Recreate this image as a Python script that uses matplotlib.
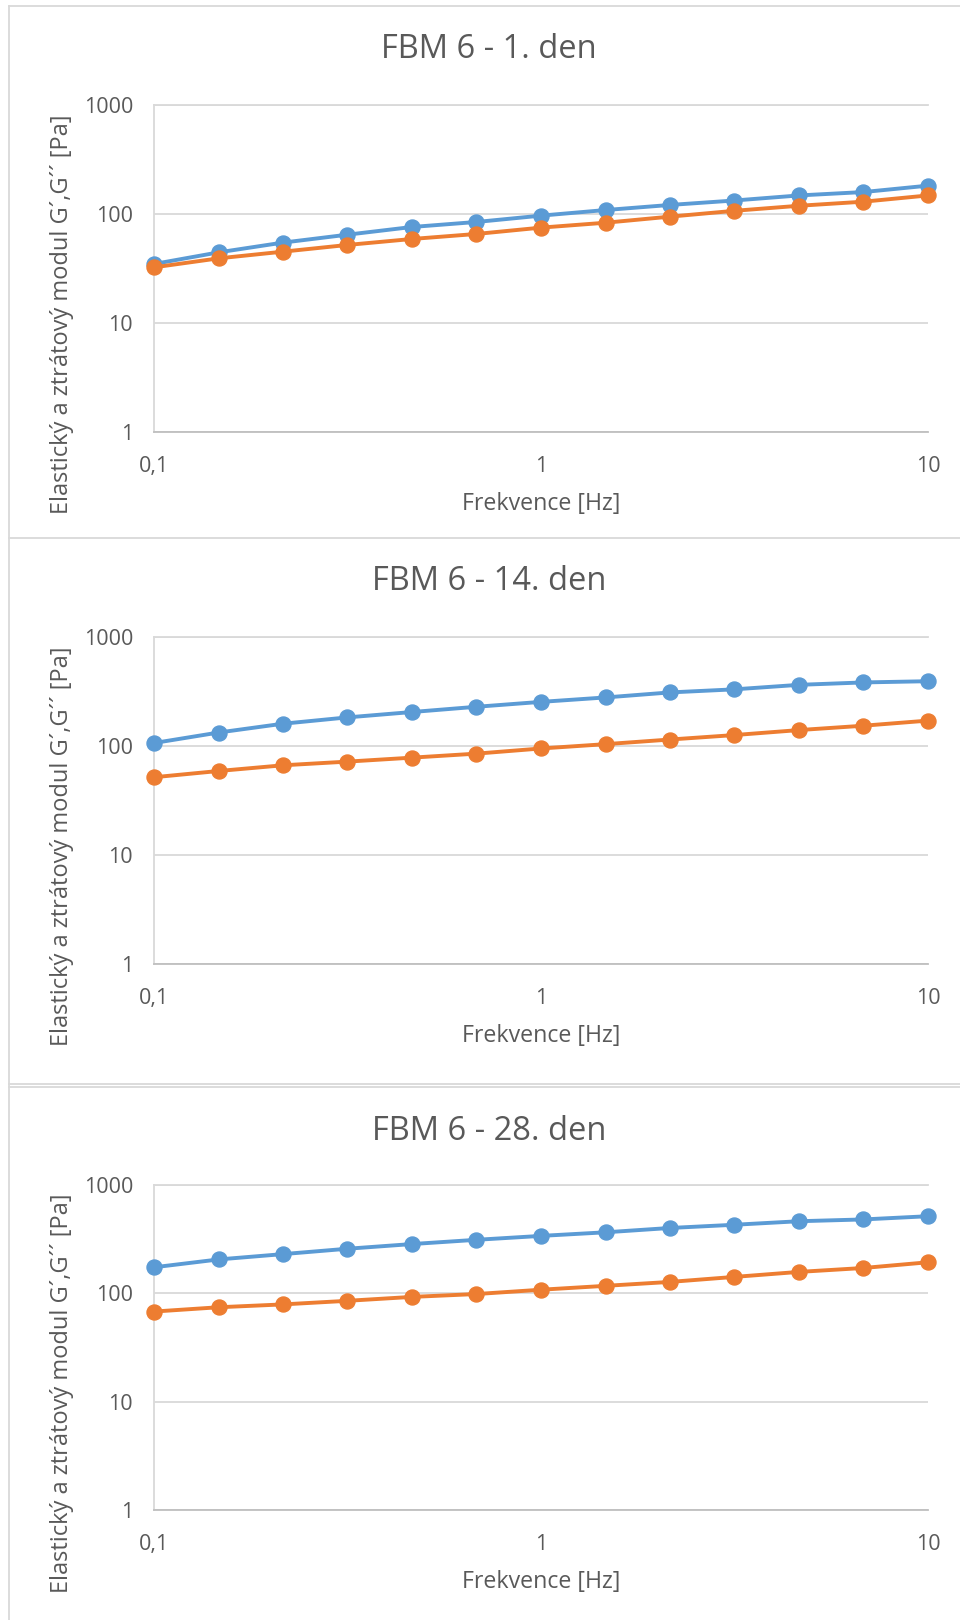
import matplotlib
matplotlib.use("Agg")
import matplotlib.pyplot as plt
from matplotlib.lines import Line2D
from matplotlib.ticker import FixedLocator, FixedFormatter, NullLocator

plt.rcParams['font.family'] = ['Open Sans', 'DejaVu Sans']

# ---- data ----
freq = [0.1, 0.147, 0.215, 0.316, 0.464, 0.681, 1.0, 1.47, 2.15, 3.16, 4.64, 6.81, 10.0]

titles = ["FBM 6 - 1. den", "FBM 6 - 14. den", "FBM 6 - 28. den"]

d1_G1 = [34.8, 44.5, 54.6, 64.6, 76, 84.5, 96.6, 108.8, 121, 133, 148, 159, 182]
d1_G2 = [32.4, 39.2, 45.1, 52, 59, 65.6, 75, 83.2, 94.5, 107, 119, 129.7, 148]

d14_G1 = [106.5, 133, 160, 183, 205, 229, 254, 279, 310, 331, 364, 383, 393]
d14_G2 = [51.7, 59, 66.5, 71.9, 78.2, 85.1, 94.9, 104, 114.6, 126, 140, 153.5, 171]

d28_G1 = [174, 205.6, 230, 258, 285, 312, 339, 366, 401, 429.5, 463, 481, 515]
d28_G2 = [67.9, 74.4, 79, 85.3, 92.7, 98.5, 108, 117.3, 127.4, 141.8, 157.7, 171.4, 193.5]

series_G1 = [d1_G1, d14_G1, d28_G1]
series_G2 = [d1_G2, d14_G2, d28_G2]

x_ticks = [0.1, 1, 10]
x_ticklabels = ["0,1", "1", "10"]
y_ticks = [1, 10, 100, 1000]
y_ticklabels = ["1", "10", "100", "1000"]

xlabel = "Frekvence [Hz]"
ylabel = "Elastický a ztrátový modul G´,G´´ [Pa]"

# ---- style ----
W, H = 960, 1620
TXT = '#595959'
GRID = '#D9D9D9'
BLUE = '#5B9BD5'
ORANGE = '#ED7D31'

fig = plt.figure(figsize=(W / 100, H / 100), dpi=100)
fig.patch.set_facecolor('white')

# panel geometry in pixels: (axes top, axes bottom, title y)
panels = [(105, 432, 49), (637, 964, 582), (1185, 1510, 1131)]
ax_left, ax_right = 154, 928

for i, (top, bot, ty) in enumerate(panels):
    ax = fig.add_axes([ax_left / W, 1 - bot / H, (ax_right - ax_left) / W, (bot - top) / H])
    ax.set_xscale('log')
    ax.set_yscale('log')
    ax.set_xlim(0.1, 10)
    ax.set_ylim(1, 1000)
    ax.xaxis.set_major_locator(FixedLocator(x_ticks))
    ax.xaxis.set_major_formatter(FixedFormatter(x_ticklabels))
    ax.xaxis.set_minor_locator(NullLocator())
    ax.yaxis.set_major_locator(FixedLocator(y_ticks))
    ax.yaxis.set_major_formatter(FixedFormatter(y_ticklabels))
    ax.yaxis.set_minor_locator(NullLocator())
    ax.tick_params(axis='both', length=0, labelsize=15.5, labelcolor=TXT)
    ax.tick_params(axis='x', pad=17.5)
    ax.tick_params(axis='y', pad=15)
    ax.yaxis.grid(True, color=GRID, lw=1.3)
    ax.set_axisbelow(True)
    ax.spines['right'].set_visible(False)
    ax.spines['top'].set_color(GRID)
    ax.spines['top'].set_linewidth(1.3)
    ax.spines['left'].set_color(GRID)
    ax.spines['left'].set_linewidth(1.3)
    ax.spines['bottom'].set_color('#BFBFBF')
    ax.spines['bottom'].set_linewidth(1.3)

    ax.plot(freq, series_G1[i], color=BLUE, lw=2.8, marker='o', ms=10.8,
            clip_on=False, zorder=3)
    ax.plot(freq, series_G2[i], color=ORANGE, lw=2.8, marker='o', ms=10.8,
            clip_on=False, zorder=4)

    ax.set_xlabel(xlabel, fontsize=16.7, color=TXT)
    ax.xaxis.set_label_coords(0.5, -(72) / (bot - top))
    ax.xaxis.label.set_va('center')
    ax.set_ylabel(ylabel, fontsize=17, color=TXT)
    ax.yaxis.set_label_coords((62 - ax_left) / (ax_right - ax_left), 0.36)
    ax.yaxis.label.set_va('center')
    ax.yaxis.label.set_ha('center')

    fig.text(489 / W, 1 - ty / H, titles[i], fontsize=23.5, color=TXT,
             ha='center', va='center')

# panel borders
def hline(y):
    fig.add_artist(Line2D([9 / W, 1], [1 - y / H, 1 - y / H], transform=fig.transFigure,
                          color=GRID, lw=1.3))

hline(6)
hline(538)
hline(1084)
hline(1087)
fig.add_artist(Line2D([9 / W, 9 / W], [0, 1 - 6 / H], transform=fig.transFigure,
                      color=GRID, lw=1.3))

fig.savefig('out.png', dpi=100)
